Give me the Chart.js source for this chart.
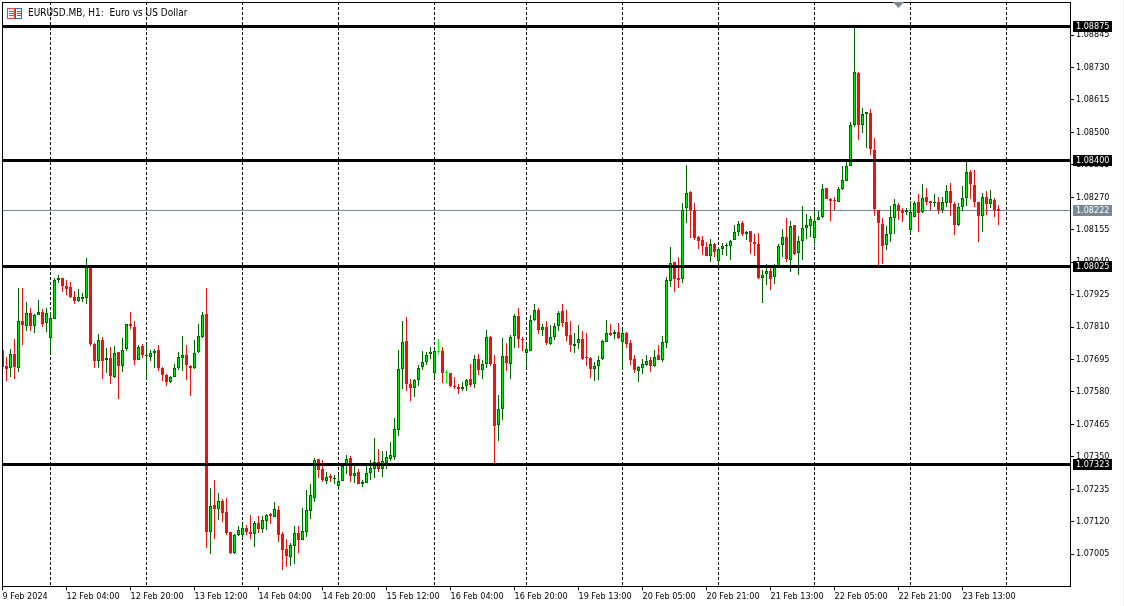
<!DOCTYPE html>
<html>
<head>
<meta charset="utf-8">
<title>EURUSD.MB, H1</title>
<script src="https://cdn.jsdelivr.net/npm/chart.js@4"></script>
<style>
  html, body { margin: 0; padding: 0; background: #f0f0f0; overflow: hidden; }
  canvas { display: block; background: #fff; }
</style>
</head>
<body>
<canvas id="priceChart" width="1123" height="606"></canvas>
<script>
// hourly bars in points (1 point = 0.00001)
const opens = [
  107727,107671,107666,107716,107665,107830,107813,107861,107813,107852,
  107864,107824,107771,107839,107976,107984,107956,107952,107917,107902,
  107909,107912,108030,107751,107690,107765,107693,107701,107633,107723,
  107672,107733,107822,107811,107693,107744,107707,107704,107718,107730,
  107666,107641,107615,107634,107665,107701,107712,107673,107665,107721,
  107774,107857,107082,107179,107166,107192,107153,107082,107010,107071,
  107074,107098,107084,107078,107114,107095,107124,107146,107138,107160,
  107075,107022,106996,107035,107079,107056,107085,107159,107205,107341,
  107305,107265,107283,107272,107247,107265,107325,107345,107283,107296,
  107255,107258,107291,107308,107330,107306,107329,107342,107351,107445,
  107661,107761,107609,107594,107622,107668,107686,107714,107647,107726,
  107726,107650,107648,107602,107599,107590,107601,107627,107609,107698,
  107658,107679,107773,107680,107463,107520,107708,107679,107778,107850,
  107768,107719,107725,107834,107869,107799,107811,107750,107775,107814,
  107867,107829,107783,107742,107753,107768,107702,107701,107661,107673,
  107696,107757,107790,107785,107791,107757,107788,107755,107696,107654,
  107664,107675,107692,107672,107710,107693,107755,107973,108039,107982,
  107980,108231,108290,108225,108130,108117,108094,108061,108103,108044,
  108086,108097,108097,108119,108145,108180,108138,108149,108112,108105,
  107983,107998,108009,107986,108027,108100,108130,108047,108172,108072,
  108114,108160,108168,108125,108189,108199,108303,108263,108261,108252,
  108298,108329,108380,108527,108711,108525,108564,108570,108439,108225,
  108176,108099,108139,108196,108244,108223,108217,108153,108199,108254,
  108217,108271,108255,108248,108254,108223,108250,108293,108247,108171,
  108235,108267,108361,108315,108254,108203,108271,108245,108261,108230
];
const highs = [
  107727,107704,107731,107766,107947,107950,107897,107879,107857,107907,
  107875,107878,107862,107982,107996,107984,107978,107969,107937,107943,
  107930,108056,108031,107752,107786,107776,107734,107738,107741,107723,
  107772,107822,107862,107830,107747,107751,107749,107727,107732,107745,
  107667,107645,107637,107678,107723,107777,107745,107674,107763,107819,
  107864,107947,107239,107268,107222,107199,107204,107082,107075,107104,
  107111,107108,107144,107123,107140,107140,107147,107151,107190,107176,
  107082,107059,107046,107105,107105,107167,107231,107253,107344,107341,
  107338,107295,107289,107285,107289,107329,107356,107352,107317,107305,
  107268,107322,107338,107416,107377,107370,107370,107402,107487,107727,
  107830,107847,107627,107627,107674,107724,107722,107738,107727,107766,
  107738,107659,107648,107632,107609,107615,107627,107678,107712,107715,
  107694,107798,107779,107712,107568,107770,107752,107780,107857,107876,
  107773,107751,107851,107890,107878,107819,107830,107818,107824,107865,
  107893,107872,107833,107787,107816,107796,107788,107705,107686,107706,
  107763,107834,107820,107798,107823,107798,107791,107765,107712,107671,
  107695,107710,107704,107728,107748,107777,107987,108095,108041,108057,
  108250,108385,108291,108248,108131,108131,108111,108123,108107,108093,
  108108,108108,108120,108173,108186,108187,108152,108152,108140,108144,
  108011,108032,108020,108032,108105,108158,108198,108186,108173,108134,
  108239,108209,108202,108223,108221,108317,108303,108268,108272,108308,
  108379,108400,108537,108871,108715,108586,108573,108584,108481,108225,
  108195,108168,108239,108262,108251,108231,108231,108258,108258,108280,
  108318,108304,108258,108283,108270,108270,108315,108321,108252,108249,
  108311,108394,108367,108367,108254,108285,108291,108294,108267,108244
];
const lows = [
  107665,107619,107633,107626,107651,107745,107796,107795,107789,107851,
  107810,107792,107718,107837,107965,107934,107925,107912,107891,107898,
  107898,107890,107743,107665,107666,107625,107646,107607,107629,107555,
  107651,107724,107803,107674,107692,107700,107626,107690,107666,107654,
  107618,107600,107612,107633,107658,107653,107621,107565,107661,107718,
  107772,107028,107006,107059,107126,107119,107074,107006,107006,107068,
  107064,107073,107059,107031,107081,107081,107091,107112,107137,107048,
  106949,106960,106963,106970,107009,107055,107064,107130,107190,107275,
  107259,107253,107259,107253,107232,107264,107289,107262,107256,107252,
  107244,107256,107268,107275,107296,107279,107308,107336,107338,107424,
  107589,107582,107548,107562,107601,107656,107674,107698,107633,107713,
  107612,107610,107599,107590,107573,107583,107583,107597,107594,107639,
  107626,107665,107671,107326,107406,107481,107653,107626,107735,107735,
  107724,107668,107725,107833,107786,107777,107745,107745,107763,107796,
  107810,107760,107721,107718,107731,107692,107672,107630,107619,107621,
  107692,107757,107778,107769,107767,107659,107737,107675,107647,107616,
  107643,107671,107650,107669,107692,107686,107736,107952,107933,107949,
  107966,108180,108126,108120,108088,108067,108060,108039,108058,108034,
  108067,108061,108049,108117,108131,108131,108119,108070,108061,107981,
  107894,107958,107940,107961,108022,108058,108042,108005,108064,107996,
  108046,108123,108129,108096,108188,108197,108262,108184,108225,108252,
  108297,108327,108380,108520,108474,108499,108446,108418,108205,108028,
  108032,108084,108112,108140,108188,108181,108208,108144,108199,108145,
  108214,108244,108223,108235,108209,108214,108235,108205,108135,108168,
  108221,108239,108264,108237,108113,108145,108206,108231,108199,108173
];
const closes = [
  107668,107660,107716,107668,107832,107817,107861,107813,107853,107864,
  107820,107861,107843,107977,107984,107955,107944,107916,107902,107915,
  107915,108029,107750,107690,107765,107690,107699,107637,107719,107672,
  107730,107822,107813,107693,107740,107711,107712,107719,107726,107665,
  107640,107615,107634,107666,107705,107712,107675,107665,107719,107779,
  107853,107085,107174,107166,107192,107152,107081,107009,107072,107089,
  107097,107085,107077,107114,107095,107125,107143,107140,107164,107074,
  107020,107000,107036,107079,107056,107086,107160,107213,107337,107304,
  107269,107280,107275,107275,107265,107317,107342,107283,107292,107253,
  107260,107292,107310,107330,107306,107334,107349,107356,107447,107662,
  107758,107608,107594,107623,107666,107687,107712,107720,107726,107726,
  107647,107650,107601,107596,107590,107599,107623,107605,107698,107658,
  107680,107775,107679,107460,107521,107708,107682,107775,107850,107767,
  107764,107733,107836,107869,107799,107811,107753,107775,107814,107860,
  107824,107778,107746,107751,107768,107696,107700,107661,107673,107694,
  107759,107790,107783,107791,107770,107788,107749,107692,107657,107670,
  107678,107689,107673,107705,107693,107758,107978,108038,107980,107976,
  108225,108285,108223,108124,108114,108097,108061,108105,108075,108088,
  108098,108101,108115,108147,108176,108138,108147,108110,108103,107983,
  107995,108009,107980,108024,108098,108130,108051,108169,108070,108115,
  108162,108172,108193,108186,108201,108300,108263,108257,108256,108300,
  108331,108381,108526,108713,108525,108565,108572,108440,108228,108178,
  108096,108140,108201,108247,108221,108214,108225,108216,108250,108214,
  108268,108252,108249,108254,108223,108254,108293,108249,108171,108236,
  108268,108360,108316,108252,108203,108271,108245,108264,108223,108222
];

const priceTicks = [1.08845,1.0873,1.08615,1.085,1.08385,1.0827,1.08155,1.0804,1.07925,1.0781,1.07695,1.0758,1.07465,1.0735,1.07235,1.0712,1.07005];
const timeLabels = ['9 Feb 2024','12 Feb 04:00','12 Feb 20:00','13 Feb 12:00','14 Feb 04:00','14 Feb 20:00','15 Feb 12:00','16 Feb 04:00','16 Feb 20:00','19 Feb 13:00','20 Feb 05:00','20 Feb 21:00','21 Feb 13:00','22 Feb 05:00','22 Feb 21:00','23 Feb 13:00'];
const timeBars = [0,16,32,48,64,80,96,112,128,144,160,176,192,208,224,240];
const dayBars = [12,36,60,84,108,131,155,179,203,227,251];
const levels = [1.08875,1.084,1.08025,1.07323];
const lastPrice = 1.08222;
const markerBar = 224;

const BULL = '#00ee00', BULL_LINE = '#006400', BEAR = '#ee1111', DOJI = '#00ff00';
const GREY = '#778899';
const FONT_FAMILY = '"DejaVu Sans Condensed", "DejaVu Sans", sans-serif';
const AXIS_FONT = { family: FONT_FAMILY, size: 9 };
const X_MIN = -0.125, X_MAX = 266.875;

const toPrice = (p) => p / 1e5;
const isDoji = (i) => opens[i] === closes[i];
const isBull = (i) => closes[i] >= opens[i];
const lineColor = (i) => (isDoji(i) ? DOJI : isBull(i) ? BULL_LINE : BEAR);

const wicks = highs.map((h, i) => ({ x: i, y: [toPrice(lows[i]), toPrice(h)] }));
const bodies = opens.map((o, i) => ({ x: i, y: [toPrice(o), toPrice(closes[i])] }));

const flatLine = (y) => [{ x: X_MIN, y: y }, { x: X_MAX, y: y }];
const noMargins = (s) => { s.paddingLeft = s.paddingRight = s.paddingTop = s.paddingBottom = 0; };

// the terminal draws on whole pixels, so snap what the scales computed
const pixelSnap = {
  id: 'pixelSnap',
  beforeDatasetsDraw(chart) {
    chart.getSortedVisibleDatasetMetas().forEach((meta) => {
      meta.data.forEach((el) => {
        if (meta.type === 'line') {
          el.y = Math.floor(el.y) + 0.5;
        } else {
          el.y = Math.round(el.y);
          el.base = Math.round(el.base);
          if (el.y === el.base) el.base = el.y + 1;
        }
      });
    });
  },
};

// price tags, title and frame go on top of everything
const overlay = {
  id: 'overlay',
  afterDraw(chart) {
    const { ctx, chartArea: a, scales } = chart;
    ctx.save();
    ctx.strokeStyle = '#000';
    ctx.lineWidth = 1;
    ctx.strokeRect(a.left + 0.5, a.top + 0.5, a.right - a.left, a.bottom - a.top);

    const tag = (price, color) => {
      const y = Math.floor(scales.y.getPixelForValue(price));
      ctx.fillStyle = color;
      ctx.fillRect(a.right + 3, y - 5, 39, 11);
      ctx.fillStyle = '#fff';
      ctx.font = AXIS_FONT.size + 'px ' + FONT_FAMILY;
      ctx.textAlign = 'left';
      ctx.textBaseline = 'middle';
      ctx.fillText(price.toFixed(5), a.right + 6, y + 1);
    };
    levels.forEach((l) => tag(l, '#000'));
    tag(lastPrice, GREY);

    // chart symbol icon
    ctx.strokeStyle = '#e8413a';
    ctx.strokeRect(7.5, 8.5, 7, 10);
    ctx.beginPath();
    [11, 13, 15].forEach((y) => { ctx.moveTo(9, y + 0.5); ctx.lineTo(14, y + 0.5); });
    ctx.stroke();
    ctx.strokeStyle = '#1e6fc8';
    ctx.strokeRect(15.5, 8.5, 6, 10);
    ctx.beginPath();
    [11, 13, 15].forEach((y) => { ctx.moveTo(17, y + 0.5); ctx.lineTo(21, y + 0.5); });
    ctx.stroke();

    ctx.fillStyle = '#000';
    ctx.font = '10px ' + FONT_FAMILY;
    ctx.textAlign = 'left';
    ctx.textBaseline = 'middle';
    ctx.fillText('EURUSD.MB, H1:  Euro vs US Dollar', 28, 13.5);

    // shift marker on the top edge
    const mx = scales.x.getPixelForValue(markerBar);
    ctx.fillStyle = GREY;
    ctx.beginPath();
    ctx.moveTo(mx - 5.5, a.top);
    ctx.lineTo(mx + 5.5, a.top);
    ctx.lineTo(mx, a.top + 6);
    ctx.closePath();
    ctx.fill();
    ctx.restore();
  },
};

new Chart(document.getElementById('priceChart').getContext('2d'), {
  type: 'bar',
  data: {
    datasets: [
      ...levels.map((l) => ({
        type: 'line',
        data: flatLine(l),
        borderColor: '#000',
        borderWidth: 3,
        pointRadius: 0,
        order: 0,
      })),
      {
        data: bodies,
        backgroundColor: bodies.map((_, i) => (isDoji(i) ? DOJI : isBull(i) ? BULL : BEAR)),
        borderColor: bodies.map((_, i) => lineColor(i)),
        borderWidth: 1,
        borderSkipped: false,
        inflateAmount: 0,
        barThickness: 3,
        grouped: false,
        order: 1,
      },
      {
        data: wicks,
        backgroundColor: wicks.map((_, i) => lineColor(i)),
        borderWidth: 0,
        inflateAmount: 0,
        barThickness: 1,
        grouped: false,
        order: 2,
      },
      {
        type: 'line',
        data: flatLine(lastPrice),
        borderColor: GREY,
        borderWidth: 1,
        pointRadius: 0,
        order: 3,
      },
    ],
  },
  options: {
    responsive: false,
    animation: false,
    events: [],
    layout: { padding: { left: 2, top: 2, right: 0, bottom: 0 } },
    plugins: { legend: { display: false }, tooltip: { enabled: false }, title: { display: false } },
    scales: {
      x: {
        type: 'linear',
        min: X_MIN,
        max: X_MAX,
        offset: false,
        afterBuildTicks: (s) => { s.ticks = timeBars.map((v) => ({ value: v })); },
        afterFit: (s) => { s.height = 20; noMargins(s); },
        grid: { drawOnChartArea: false, drawTicks: true, tickLength: 4, tickColor: '#000', offset: false },
        border: { display: false },
        ticks: {
          autoSkip: false,
          maxRotation: 0,
          minRotation: 0,
          align: 'start',
          padding: 1,
          color: '#000',
          font: AXIS_FONT,
          callback: (v, i) => timeLabels[i],
        },
      },
      x2: {
        type: 'linear',
        axis: 'x',
        position: 'bottom',
        min: X_MIN,
        max: X_MAX,
        offset: false,
        afterBuildTicks: (s) => { s.ticks = dayBars.map((v) => ({ value: v })); },
        afterFit: (s) => { s.height = 0; noMargins(s); },
        grid: { color: '#000', lineWidth: 1, drawTicks: false, offset: false },
        border: { display: false, dash: [3, 2] },
        ticks: { display: false, autoSkip: false },
      },
      y: {
        position: 'right',
        min: 1.06892,
        max: 1.08962,
        afterBuildTicks: (s) => { s.ticks = priceTicks.map((v) => ({ value: v })); },
        afterFit: (s) => { s.width = 53; noMargins(s); },
        grid: { drawOnChartArea: false, drawTicks: true, tickLength: 4, tickColor: '#000' },
        border: { display: false },
        ticks: {
          autoSkip: false,
          padding: 2,
          color: '#000',
          font: AXIS_FONT,
          callback: (v) => v.toFixed(5),
        },
      },
    },
  },
  plugins: [pixelSnap, overlay],
});
</script>
</body>
</html>
